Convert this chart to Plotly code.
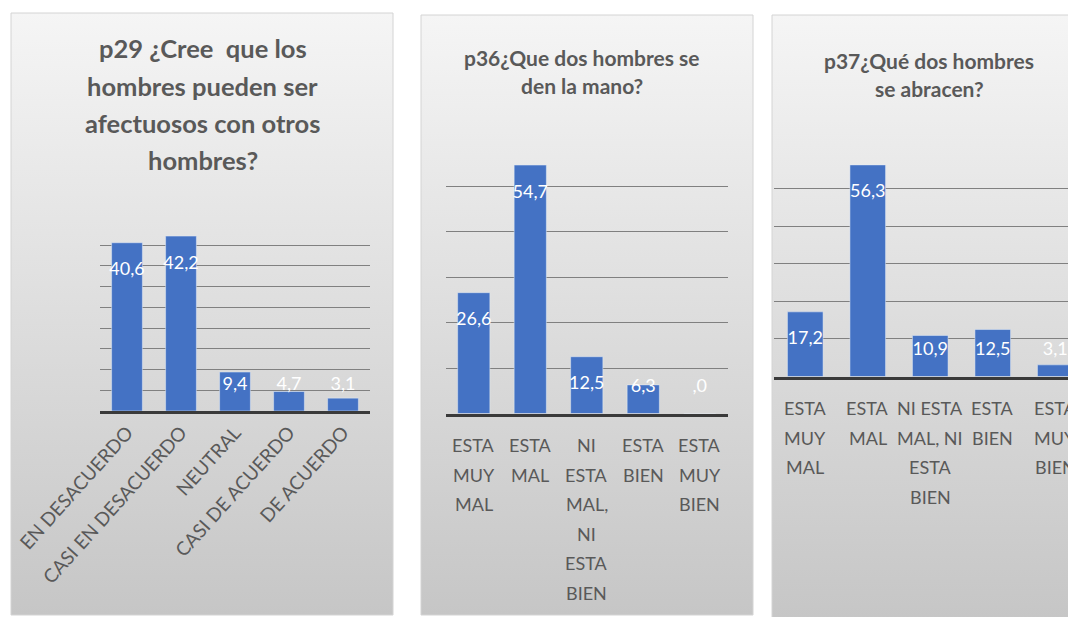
import plotly.graph_objects as go

# the page body keeps its default 8px margin, so the figure starts at (8, 8)
OFF = 8
W, H = 1076 - OFF, 617 - OFF

# p29 - afectuosos con otros hombres
cats_p29 = ["EN DESACUERDO", "CASI EN DESACUERDO", "NEUTRAL", "CASI DE ACUERDO", "DE ACUERDO"]
vals_p29 = [40.6, 42.2, 9.4, 4.7, 3.1]

# p36 - dos hombres se den la mano
cats_p36 = ["ESTA<br>MUY<br>MAL", "ESTA<br>MAL", "NI<br>ESTA<br>MAL,<br>NI<br>ESTA<br>BIEN",
            "ESTA<br>BIEN", "ESTA<br>MUY<br>BIEN"]
vals_p36 = [26.6, 54.7, 12.5, 6.3, 0.0]

# p37 - dos hombres se abracen
cats_p37 = ["ESTA<br>MUY<br>MAL", "ESTA<br>MAL", "NI ESTA<br>MAL, NI<br>ESTA<br>BIEN",
            "ESTA<br>BIEN", "ESTA<br>MUY<br>BIEN"]
vals_p37 = [17.2, 56.3, 10.9, 12.5, 3.1]

titles = [
    "p29 ¿Cree  que los<br>hombres pueden ser<br>afectuosos con otros<br>hombres?",
    "p36¿Que dos hombres se<br>den la mano?",
    "p37¿Qué dos hombres<br>se abracen?",
]

BAR = "#4472C4"
GREY_TXT = "#595959"
FONT = "Lato, sans-serif"


def fmt(v):
    s = f"{v:.1f}".replace(".", ",")
    return s[1:] if s.startswith("0,") else s


def fx(x):
    return (x - OFF) / W


def fy(y):
    return 1 - (y - OFF) / H


# page-pixel layout of each panel: card box, plot box, y max, title (x, first line y, step, size)
panels = [
    dict(cats=cats_p29, vals=vals_p29, card=(11, 393, 13, 615), plot=(100, 370, 224.5, 411),
         ymax=45, dtick=5, xend=4.5, title=(202.5, 48.5, 37.2, 25.5), ticks=None),
    dict(cats=cats_p36, vals=vals_p36, card=(421, 753, 15, 615), plot=(445.5, 728, 141, 413.5),
         ymax=60, dtick=10, xend=4.5, title=(582, 57, 28.3, 21), ticks=(445, 29.6)),
    dict(cats=cats_p37, vals=vals_p37, card=(772, 1095, 15, 618), plot=(774, 1076, 151, 376.5),
         ymax=60, dtick=10, xend=-0.5 + 302 / 62.5, title=(929, 60, 28.3, 21), ticks=(408, 29.5)),
]

fig = go.Figure()
annotations = []


def add_lines(text, xref, x, y0, step, font):
    # one annotation per text line so the line spacing can follow the original
    for k, line in enumerate(text.split("<br>")):
        annotations.append(dict(
            text=line, xref=xref, x=x, yref="paper", y=fy(y0 + k * step),
            xanchor="center", yanchor="middle", showarrow=False, font=font,
        ))


# card backgrounds (subplot 1 drawn first, in page pixels, y measured from the bottom)
for p in panels:
    x0, x1, y0, y1 = p["card"]
    fig.add_trace(go.Scatter(
        x=[x0, x1, x1, x0, x0], y=[617 - y1, 617 - y1, 617 - y0, 617 - y0, 617 - y1],
        mode="lines", fill="toself", line=dict(color="#d4d4d4", width=1),
        fillgradient=dict(type="vertical", start=617 - y1, stop=617 - y0,
                          colorscale=[[0, "#c6c6c6"], [0.55, "#e0e0e0"], [1, "#f5f5f5"]]),
        hoverinfo="skip", showlegend=False, xaxis="x", yaxis="y",
    ))

layout_axes = dict(
    xaxis=dict(domain=[0, 1], range=[OFF, 1076], visible=False, fixedrange=True, automargin=False),
    yaxis=dict(domain=[0, 1], range=[0, H], visible=False, fixedrange=True, automargin=False),
)

for i, p in enumerate(panels, start=2):
    px0, px1, py0, py1 = p["plot"]
    ppu = (py1 - py0) / p["ymax"]
    lab_y = [max(v - 28 / ppu, 26 / ppu) for v in p["vals"]]
    xa, ya = f"x{i}", f"y{i}"
    fig.add_trace(go.Bar(x=p["cats"], y=p["vals"], marker_color=BAR, width=0.57,
                         xaxis=xa, yaxis=ya, showlegend=False))
    fig.add_trace(go.Scatter(x=p["cats"], y=lab_y, mode="text",
                             text=[fmt(v) for v in p["vals"]],
                             textfont=dict(family=FONT, size=18, color="white"),
                             xaxis=xa, yaxis=ya, showlegend=False, cliponaxis=False))
    rotated = p["ticks"] is None
    layout_axes[f"xaxis{i}"] = dict(
        domain=[fx(px0), fx(px1)], anchor=ya, range=[-0.5, p["xend"]],
        showline=True, linecolor="#3a3a3a", linewidth=3, showgrid=False,
        ticks="", tickangle=-48, fixedrange=True, automargin=False,
        showticklabels=rotated,
        tickfont=dict(family=FONT, size=19, color=GREY_TXT),
    )
    layout_axes[f"yaxis{i}"] = dict(
        domain=[fy(py1), fy(py0)], anchor=xa, range=[0, p["ymax"]],
        dtick=p["dtick"], showticklabels=False, gridcolor="#808080", gridwidth=1,
        zeroline=False, showline=False, fixedrange=True, automargin=False,
    )
    tx, ty, tstep, ts = p["title"]
    add_lines(titles[i - 2], "paper", fx(tx), ty, tstep,
              dict(family=FONT, size=ts, color=GREY_TXT, weight="bold"))
    if not rotated:
        y0, step = p["ticks"]
        for j, c in enumerate(p["cats"]):
            add_lines(c, xa, j, y0, step, dict(family=FONT, size=18, color=GREY_TXT))

fig.update_layout(
    width=W, height=H, autosize=False,
    margin=dict(l=0, r=0, t=0, b=0, pad=0),
    paper_bgcolor="white", plot_bgcolor="rgba(0,0,0,0)",
    annotations=annotations, showlegend=False,
    **layout_axes,
)

fig.write_html("out.html")
